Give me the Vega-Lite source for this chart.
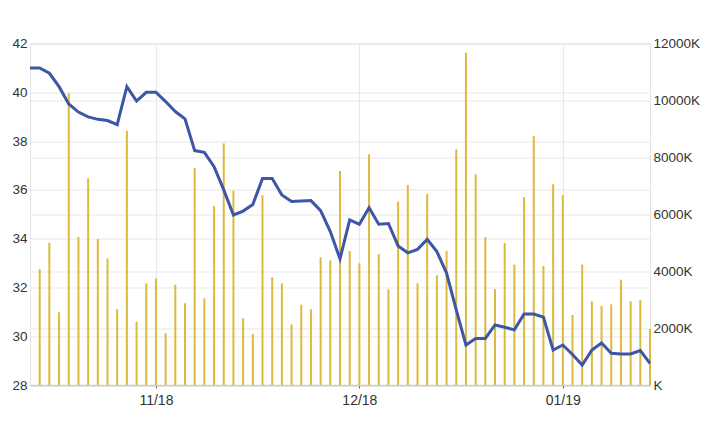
{
  "$schema": "https://vega.github.io/schema/vega-lite/v6.json",
  "width": 620,
  "height": 341.5,
  "autosize": {"type": "none"},
  "padding": {"left": 30, "top": 43.5, "right": 70, "bottom": 37},
  "background": "white",
  "config": {
    "view": {"stroke": "#e3e3e3", "strokeWidth": 1},
    "axis": {
      "labelFont": "Liberation Sans",
      "labelFontSize": 13.5,
      "labelColor": "#333333",
      "gridColor": "#e8e8e8",
      "gridWidth": 1.2,
      "title": null
    }
  },
  "data": {
    "values": [
      {"day": 0, "price": 41.0},
      {"day": 1, "price": 41.0, "volume": 4070000},
      {"day": 2, "price": 40.78, "volume": 5000000},
      {"day": 3, "price": 40.23, "volume": 2555000},
      {"day": 4, "price": 39.52, "volume": 10250000},
      {"day": 5, "price": 39.19, "volume": 5200000},
      {"day": 6, "price": 38.99, "volume": 7263000},
      {"day": 7, "price": 38.89, "volume": 5130000},
      {"day": 8, "price": 38.84, "volume": 4450000},
      {"day": 9, "price": 38.67, "volume": 2670000},
      {"day": 10, "price": 40.23, "volume": 8937000},
      {"day": 11, "price": 39.64, "volume": 2225000},
      {"day": 12, "price": 40.0, "volume": 3573000},
      {"day": 13, "price": 40.0, "volume": 3737000},
      {"day": 14, "price": 39.62, "volume": 1816000},
      {"day": 15, "price": 39.21, "volume": 3526000},
      {"day": 16, "price": 38.91, "volume": 2870000},
      {"day": 17, "price": 37.61, "volume": 7625000},
      {"day": 18, "price": 37.54, "volume": 3046000},
      {"day": 19, "price": 36.95, "volume": 6290000},
      {"day": 20, "price": 36.0, "volume": 8493000},
      {"day": 21, "price": 34.97, "volume": 6829000},
      {"day": 22, "price": 35.13, "volume": 2343000},
      {"day": 23, "price": 35.4, "volume": 1792000},
      {"day": 24, "price": 36.47, "volume": 6665000},
      {"day": 25, "price": 36.47, "volume": 3784000},
      {"day": 26, "price": 35.79, "volume": 3573000},
      {"day": 27, "price": 35.52, "volume": 2132000},
      {"day": 28, "price": 35.54, "volume": 2823000},
      {"day": 29, "price": 35.56, "volume": 2659000},
      {"day": 30, "price": 35.15, "volume": 4486000},
      {"day": 31, "price": 34.29, "volume": 4380000},
      {"day": 32, "price": 33.17, "volume": 7519000},
      {"day": 33, "price": 34.77, "volume": 4709000},
      {"day": 34, "price": 34.59, "volume": 4275000},
      {"day": 35, "price": 35.27, "volume": 8106000},
      {"day": 36, "price": 34.59, "volume": 4603000},
      {"day": 37, "price": 34.62, "volume": 3362000},
      {"day": 38, "price": 33.7, "volume": 6442000},
      {"day": 39, "price": 33.42, "volume": 7028000},
      {"day": 40, "price": 33.56, "volume": 3573000},
      {"day": 41, "price": 33.97, "volume": 6712000},
      {"day": 42, "price": 33.47, "volume": 3854000},
      {"day": 43, "price": 32.59, "volume": 4720000},
      {"day": 44, "price": 31.08, "volume": 8282000},
      {"day": 45, "price": 29.64, "volume": 11678000},
      {"day": 46, "price": 29.91, "volume": 7403000},
      {"day": 47, "price": 29.91, "volume": 5200000},
      {"day": 48, "price": 30.46, "volume": 3373000},
      {"day": 49, "price": 30.37, "volume": 4990000},
      {"day": 50, "price": 30.26, "volume": 4228000},
      {"day": 51, "price": 30.91, "volume": 6606000},
      {"day": 52, "price": 30.91, "volume": 8750000},
      {"day": 53, "price": 30.78, "volume": 4182000},
      {"day": 54, "price": 29.43, "volume": 7052000},
      {"day": 55, "price": 29.64, "volume": 6665000},
      {"day": 56, "price": 29.25, "volume": 2460000},
      {"day": 57, "price": 28.82, "volume": 4228000},
      {"day": 58, "price": 29.43, "volume": 2940000},
      {"day": 59, "price": 29.72, "volume": 2776000},
      {"day": 60, "price": 29.3, "volume": 2835000},
      {"day": 61, "price": 29.27, "volume": 3702000},
      {"day": 62, "price": 29.27, "volume": 2940000},
      {"day": 63, "price": 29.41, "volume": 2987000},
      {"day": 64, "price": 28.89, "volume": 1968000}
    ]
  },
  "encoding": {
    "x": {
      "field": "day",
      "type": "quantitative",
      "scale": {"domain": [0, 64], "nice": false, "zero": false, "padding": 0},
      "axis": {
        "values": [13, 34, 55],
        "labelExpr": "datum.value == 13 ? '11/18' : datum.value == 34 ? '12/18' : '01/19'",
        "grid": true,
        "ticks": true,
        "tickSize": 3,
        "tickColor": "#666666",
        "domainColor": "#cccccc",
        "domainWidth": 1.5,
        "labelPadding": 5,
        "labelFontSize": 14
      }
    }
  },
  "layer": [
    {
      "mark": {"type": "bar", "size": 2, "color": "#dcba3e"},
      "encoding": {
        "y": {
          "field": "volume",
          "type": "quantitative",
          "scale": {"domain": [0, 12000000], "nice": false},
          "axis": {
            "orient": "right",
            "values": [0, 2000000, 4000000, 6000000, 8000000, 10000000, 12000000],
            "labelExpr": "datum.value == 0 ? 'K' : format(datum.value / 1000, 'd') + 'K'",
            "ticks": false,
            "domain": false,
            "grid": true,
            "labelPadding": 3
          }
        }
      }
    },
    {
      "mark": {"type": "line", "color": "#3d56a6", "strokeWidth": 3},
      "encoding": {
        "y": {
          "field": "price",
          "type": "quantitative",
          "scale": {"domain": [28, 42], "nice": false, "zero": false},
          "axis": {
            "orient": "left",
            "values": [28, 30, 32, 34, 36, 38, 40, 42],
            "ticks": false,
            "domain": false,
            "grid": true,
            "labelPadding": 3
          }
        }
      }
    }
  ],
  "resolve": {"scale": {"y": "independent"}}
}
